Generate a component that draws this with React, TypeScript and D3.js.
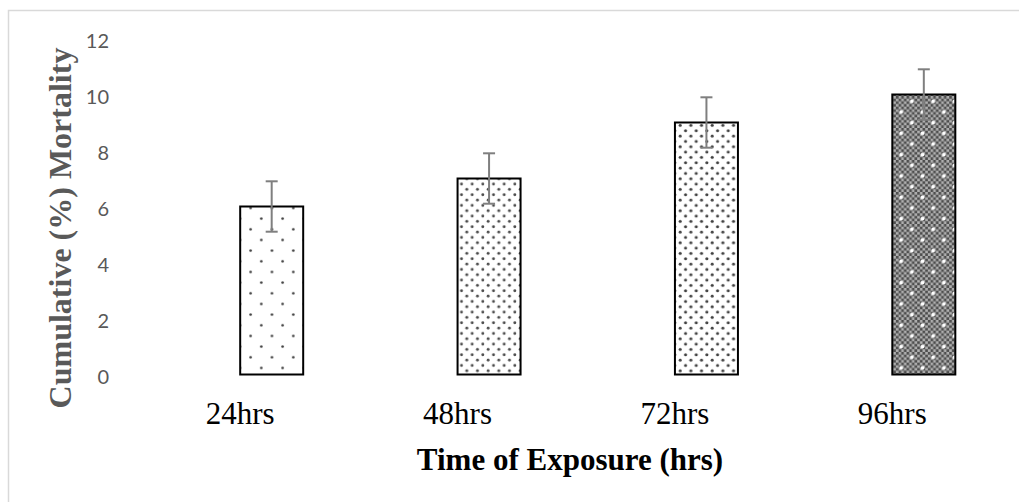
import React from "react";
import * as d3 from "d3";

const categories = ["24hrs", "48hrs", "72hrs", "96hrs"];
const mortality = [6, 7, 9, 10];
const errors = [0.9, 0.9, 0.9, 0.9];
const yTicks = [0, 2, 4, 6, 8, 10, 12];
const patternIds = ["pat1", "pat2", "pat3", "pat4"];

const W = 1019;
const H = 502;

export default function App() {
  const x = d3.scaleBand<string>().domain(categories).range([131.5, 1001]).paddingInner(0).paddingOuter(0);
  const y = d3.scaleLinear().domain([0, 12]).range([374.5, 38.5]);
  const barW = 63;
  const barOffset = barW / 2;
  const capW = 12;

  return (
    <svg
      width={W}
      height={H}
      style={{ position: "absolute", left: 0, top: 0, display: "block", background: "#fff" }}
    >
      <defs>
        <pattern id="pat1" patternUnits="userSpaceOnUse" width={21.33} height={21.33} x={0} y={0}>
          <rect width={21.33} height={21.33} fill="#fff" />
          <circle cx={5.33} cy={5.33} r={1.3} fill="#3a3a3a" />
          <circle cx={16} cy={16} r={1.3} fill="#3a3a3a" />
        </pattern>
        <pattern id="pat2" patternUnits="userSpaceOnUse" width={10.67} height={10.67}>
          <rect width={10.67} height={10.67} fill="#fff" />
          <circle cx={2.67} cy={2.67} r={1.45} fill="#4a4a4a" />
          <circle cx={8} cy={8} r={1.45} fill="#4a4a4a" />
        </pattern>
        <pattern id="pat3" patternUnits="userSpaceOnUse" width={10.67} height={10.67}>
          <rect width={10.67} height={10.67} fill="#fff" />
          <circle cx={2.67} cy={2.67} r={1.55} fill="#404040" />
          <circle cx={8} cy={8} r={1.55} fill="#404040" />
        </pattern>
        <pattern id="check" patternUnits="userSpaceOnUse" width={5.33} height={5.33}>
          <rect width={5.33} height={5.33} fill="#b0b0b0" />
          <rect width={2.67} height={2.67} fill="#4d4d4d" />
          <rect x={2.67} y={2.67} width={2.67} height={2.67} fill="#4d4d4d" />
        </pattern>
        <pattern id="pat4" patternUnits="userSpaceOnUse" width={21.33} height={21.33}>
          <rect width={21.33} height={21.33} fill="url(#check)" />
          <circle cx={5.33} cy={5.33} r={1.9} fill="#fff" />
          <circle cx={16} cy={16} r={1.9} fill="#fff" />
        </pattern>
      </defs>

      {/* chart border */}
      <path d={`M8.5,${H} L8.5,10.5 L${W},10.5`} fill="none" stroke="#d9d9d9" strokeWidth={1.5} />

      {/* y tick labels */}
      {yTicks.map((t) => (
        <text
          key={t}
          x={109}
          y={y(t) + 1}
          textAnchor="end"
          dominantBaseline="central"
          fontFamily="Lato, 'Open Sans', sans-serif"
          fontSize={20}
          fill="#595959"
        >
          {t}
        </text>
      ))}

      {/* bars */}
      {categories.map((c, i) => {
        const cx = (x(c) as number) + x.bandwidth() / 2 + barOffset;
        return (
          <rect
            key={c}
            x={cx - barW / 2}
            y={y(mortality[i])}
            width={barW}
            height={y(0) - y(mortality[i])}
            fill={`url(#${patternIds[i]})`}
            stroke="#000"
            strokeWidth={2}
          />
        );
      })}

      {/* error bars */}
      {categories.map((c, i) => {
        const cx = (x(c) as number) + x.bandwidth() / 2 + barOffset;
        const top = y(mortality[i] + errors[i]);
        const bot = y(mortality[i] - errors[i]);
        return (
          <g key={c} stroke="#7f7f7f" strokeWidth={2}>
            <line x1={cx} x2={cx} y1={top} y2={bot} />
            <line x1={cx - capW / 2} x2={cx + capW / 2} y1={top} y2={top} />
            <line x1={cx - capW / 2} x2={cx + capW / 2} y1={bot} y2={bot} />
          </g>
        );
      })}

      {/* x tick labels */}
      {categories.map((c) => (
        <text
          key={c}
          x={(x(c) as number) + x.bandwidth() / 2}
          y={424}
          textAnchor="middle"
          fontFamily="'Liberation Serif', 'Times New Roman', serif"
          fontSize={31}
          fill="#000"
        >
          {c}
        </text>
      ))}

      {/* axis titles */}
      <text
        x={570}
        y={470}
        textAnchor="middle"
        fontFamily="'Liberation Serif', 'Times New Roman', serif"
        fontWeight="bold"
        fontSize={31}
        fill="#000"
      >
        Time of Exposure (hrs)
      </text>
      <text
        transform="translate(71,228) rotate(-90)"
        textAnchor="middle"
        fontFamily="'Liberation Serif', 'Times New Roman', serif"
        fontWeight="bold"
        fontSize={32}
        fill="#595959"
      >
        Cumulative (%) Mortality
      </text>
    </svg>
  );
}
